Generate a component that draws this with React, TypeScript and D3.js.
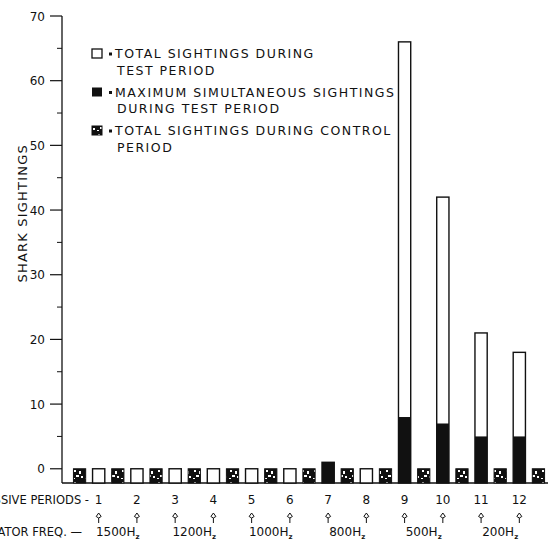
import * as d3 from 'd3';

const PERIODS = ['1', '2', '3', '4', '5', '6', '7', '8', '9', '10', '11', '12'];
// test period: total sightings and maximum simultaneous sightings
const TEST_TOTAL = [0, 0, 0, 0, 0, 0, 1, 0, 66, 42, 21, 18];
const TEST_MAX = [0, 0, 0, 0, 0, 0, 1, 0, 8, 7, 5, 5];
// control periods come before / between / after the 12 test periods
const CONTROL_TOTAL = [0, 0, 0, 0, 0, 0, 0, 0, 0, 0, 0, 0, 0];
const FREQS = ['1500', '1200', '1000', '800', '500', '200'];
const Y_TICKS = [0, 10, 20, 30, 40, 50, 60, 70];
const Y_MINOR = [5, 15, 25, 35, 45, 55, 65];

const LEGEND = [
  { kind: 'test', lines: ['TOTAL SIGHTINGS DURING', 'TEST PERIOD'] },
  { kind: 'max', lines: ['MAXIMUM SIMULTANEOUS SIGHTINGS', 'DURING TEST PERIOD'] },
  { kind: 'control', lines: ['TOTAL SIGHTINGS DURING CONTROL', 'PERIOD'] },
];

const W = 554;
const H = 545;
const FONT = '"DejaVu Sans", sans-serif';
const INK = '#111';

export default function App() {
  const slots: string[] = [];
  CONTROL_TOTAL.forEach((_, i) => {
    slots.push('c' + i);
    if (i < PERIODS.length) slots.push('t' + i);
  });

  const x = d3.scaleBand<string>().domain(slots).range([70, 548]).paddingInner(0.36).paddingOuter(0.18);
  const y = d3.scaleLinear().domain([-2.2, 70]).range([483, 16]);
  const bw = x.bandwidth();
  const base = y(-2.2);
  const cx = (k: string) => (x(k) ?? 0) + bw / 2;

  const swatch = (kind: string, sx: number, sy: number) => {
    if (kind === 'test')
      return <rect x={sx} y={sy} width={10} height={9} fill="#fff" stroke={INK} strokeWidth={1.3} />;
    if (kind === 'max') return <rect x={sx} y={sy} width={10} height={9} fill={INK} />;
    return <rect x={sx} y={sy} width={10} height={9} fill="url(#speckle)" stroke={INK} strokeWidth={1} />;
  };

  return (
    <svg width={W} height={H} style={{ position: 'fixed', left: 0, top: 0, background: '#fff' }} fontFamily={FONT}>
      <defs>
        <pattern id="speckle" width={12} height={12} patternUnits="userSpaceOnUse">
          <rect width={12} height={12} fill={INK} />
          <rect x={2} y={2} width={2} height={2} fill="#fff" />
          <rect x={7} y={3} width={2} height={3} fill="#fff" />
          <rect x={4} y={7} width={3} height={2} fill="#fff" />
          <rect x={9} y={8} width={2} height={2} fill="#fff" />
          <rect x={1} y={10} width={2} height={1} fill="#fff" />
        </pattern>
      </defs>

      {/* y axis */}
      <line x1={62} x2={62} y1={y(70)} y2={base} stroke={INK} strokeWidth={1.3} />
      {Y_TICKS.map((t) => (
        <g key={t}>
          <line x1={50} x2={62} y1={y(t)} y2={y(t)} stroke={INK} strokeWidth={1.2} />
          <text x={45} y={y(t) + 4.5} textAnchor="end" fontSize={12} fill={INK}>
            {t}
          </text>
        </g>
      ))}
      {Y_MINOR.map((t) => (
        <line key={t} x1={57} x2={62} y1={y(t)} y2={y(t)} stroke={INK} strokeWidth={1} />
      ))}
      <text
        transform={`translate(27,${y(39.5)}) rotate(-90)`}
        textAnchor="middle"
        fontSize={13}
        letterSpacing={1.2}
        fill={INK}
      >
        SHARK SIGHTINGS
      </text>

      {/* baseline */}
      <line x1={62} x2={548} y1={base} y2={base} stroke={INK} strokeWidth={1.5} />

      {/* control bars */}
      {CONTROL_TOTAL.map((v, i) => (
        <rect
          key={'c' + i}
          x={x('c' + i)}
          y={y(v)}
          width={bw}
          height={base - y(v)}
          fill="url(#speckle)"
          stroke={INK}
          strokeWidth={1}
        />
      ))}

      {/* test bars */}
      {TEST_TOTAL.map((v, i) => (
        <g key={'t' + i}>
          <rect
            x={x('t' + i)}
            y={y(v)}
            width={bw}
            height={base - y(v)}
            fill="#fff"
            stroke={INK}
            strokeWidth={1.4}
          />
          {TEST_MAX[i] > 0 && (
            <rect x={x('t' + i)} y={y(TEST_MAX[i])} width={bw} height={base - y(TEST_MAX[i])} fill={INK} />
          )}
        </g>
      ))}

      {/* legend */}
      {LEGEND.map((l, i) => {
        const ly = 58 + i * 38.5;
        return (
          <g key={l.kind}>
            {swatch(l.kind, 92, ly - 9)}
            <rect x={109} y={ly - 5.5} width={3} height={3} fill={INK} />
            <text x={115} y={ly} fontSize={12.5} letterSpacing={1.5} fill={INK}>
              {l.lines[0]}
            </text>
            <text x={117} y={ly + 16.5} fontSize={12.5} letterSpacing={1.5} fill={INK}>
              {l.lines[1]}
            </text>
          </g>
        );
      })}

      {/* period labels */}
      <text x={89} y={504} textAnchor="end" fontSize={11.5} fill={INK}>
        SUCCESSIVE PERIODS -
      </text>
      {PERIODS.map((p, i) => (
        <text key={p} x={cx('t' + i)} y={504} textAnchor="middle" fontSize={12} fill={INK}>
          {p}
        </text>
      ))}

      {/* arrows */}
      {PERIODS.map((p, i) => {
        const ax = cx('t' + i);
        return (
          <g key={'a' + p}>
            <path d={`M${ax},513 L${ax - 2.5},516.5 L${ax},518 L${ax + 2.5},516.5 Z`} fill="none" stroke={INK} strokeWidth={1} />
            <line x1={ax} x2={ax} y1={518} y2={523} stroke={INK} strokeWidth={1} />
          </g>
        );
      })}

      {/* frequency labels */}
      <text x={82} y={536} textAnchor="end" fontSize={11.5} fill={INK}>
        GENERATOR FREQ. —
      </text>
      {FREQS.map((f, k) => {
        const fx = (cx('t' + 2 * k) + cx('t' + (2 * k + 1))) / 2;
        return (
          <text key={f} x={fx} y={536} textAnchor="middle" fontSize={12} fill={INK}>
            {f}H
            <tspan fontSize={7} fontWeight="bold" dy={3}>
              z
            </tspan>
          </text>
        );
      })}
    </svg>
  );
}
